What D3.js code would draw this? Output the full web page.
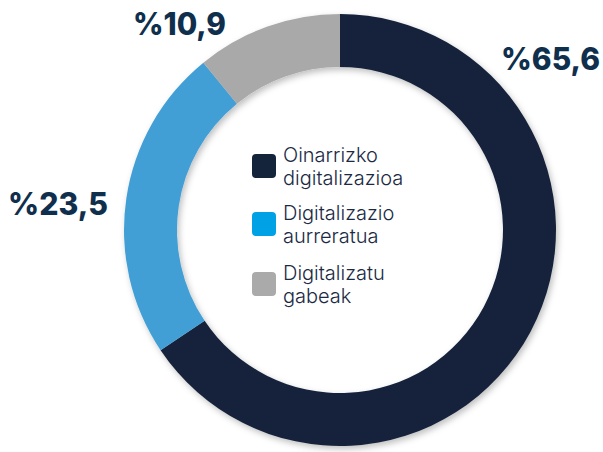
<!DOCTYPE html>
<html>
<head>
<meta charset="utf-8">
<script src="https://cdn.jsdelivr.net/npm/d3@7"></script>
<style>
  html, body { margin: 0; padding: 0; background: #ffffff; }
  svg { display: block; }
</style>
</head>
<body>
<svg id="chart" width="603" height="452"></svg>
<script>
const categories = ["Oinarrizko digitalizazioa", "Digitalizazio aurreratua", "Digitalizatu gabeak"];
const legendLines = [["Oinarrizko", "digitalizazioa"], ["Digitalizazio", "aurreratua"], ["Digitalizatu", "gabeak"]];
const values = [65.6, 23.5, 10.9];
const valueLabels = ["%65,6", "%23,5", "%10,9"];
const ringColors = ["#14243a", "#439fd6", "#a9a9a9"];
const legendColors = ["#14243a", "#00a2e5", "#aaaaaa"];

const svg = d3.select("#chart");
const cx = 340, cy = 230, rOuter = 216, rInner = 163;

const defs = svg.append("defs");
const f = defs.append("filter").attr("id", "shadow")
  .attr("x", "-10%").attr("y", "-10%").attr("width", "120%").attr("height", "120%");
f.append("feDropShadow").attr("dx", 2).attr("dy", 3).attr("stdDeviation", 3)
  .attr("flood-color", "#000").attr("flood-opacity", 0.25);

const pie = d3.pie().sort(null).value(d => d);
const arcs = pie(values);
const arc = d3.arc().innerRadius(rInner).outerRadius(rOuter);

const g = svg.append("g").attr("transform", `translate(${cx},${cy})`).attr("filter", "url(#shadow)");
g.selectAll("path").data(arcs).enter().append("path")
  .attr("d", arc)
  .attr("fill", (d, i) => ringColors[i]);

// value labels
const labelPos = [
  { x: 501, y: 70, w: 99 },
  { x: 8, y: 215, w: 100 },
  { x: 133, y: 35, w: 93 }
];
svg.selectAll("text.val").data(valueLabels).enter().append("text")
  .attr("class", "val")
  .attr("x", (d, i) => labelPos[i].x)
  .attr("y", (d, i) => labelPos[i].y)
  .attr("textLength", (d, i) => labelPos[i].w)
  .attr("lengthAdjust", "spacingAndGlyphs")
  .attr("font-family", "Inter, 'Liberation Sans', Arial, sans-serif")
  .attr("font-weight", 800)
  .attr("font-size", 31)
  .attr("fill", "#0f2f4d")
  .text(d => d);

// legend
const legendY = d3.scaleOrdinal().domain(categories).range([162, 220, 280]);
const lg = svg.append("g");
categories.forEach((c, i) => {
  const y0 = legendY(c);
  lg.append("rect")
    .attr("x", 252).attr("y", y0 - 8)
    .attr("width", 24).attr("height", 24)
    .attr("rx", 4).attr("ry", 4)
    .attr("fill", legendColors[i]);
  const t = lg.append("text")
    .attr("x", 283).attr("y", y0)
    .attr("font-family", "Inter, 'Noto Sans', sans-serif")
    .attr("font-weight", 300)
    .attr("font-size", 20)
    .attr("fill", "#1b2a44");
  legendLines[i].forEach((line, j) => {
    t.append("tspan").attr("x", 283).attr("y", y0 + j * 23).text(line);
  });
});
</script>
</body>
</html>
